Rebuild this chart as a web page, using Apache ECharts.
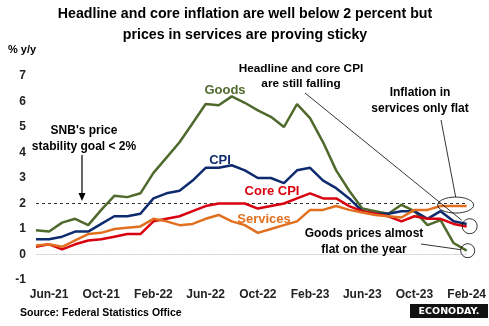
<!DOCTYPE html>
<html><head><meta charset="utf-8">
<script src="https://cdn.jsdelivr.net/npm/echarts@6/dist/echarts.min.js"></script>
<style>html,body{margin:0;padding:0;background:#fff;}#c{width:489px;height:326px;}</style>
</head><body><div id="c"></div>
<script>
const categories = ['May-21','Jun-21','Jul-21','Aug-21','Sep-21','Oct-21','Nov-21','Dec-21',
 'Jan-22','Feb-22','Mar-22','Apr-22','May-22','Jun-22','Jul-22','Aug-22','Sep-22','Oct-22','Nov-22','Dec-22',
 'Jan-23','Feb-23','Mar-23','Apr-23','May-23','Jun-23','Jul-23','Aug-23','Sep-23','Oct-23','Nov-23','Dec-23',
 'Jan-24','Feb-24'];
const tickLabels = ['Jun-21','Oct-21','Feb-22','Jun-22','Oct-22','Feb-23','Jun-23','Oct-23','Feb-24'];
const goods = [0.95,0.9,1.25,1.4,1.15,1.75,2.3,2.25,2.4,3.2,3.8,4.4,5.15,5.9,5.85,6.2,5.95,5.65,5.4,5.0,5.9,5.35,4.4,3.3,2.5,1.8,1.7,1.6,1.95,1.7,1.15,1.35,0.45,0.15];
const cpi = [0.6,0.6,0.7,0.9,0.9,1.2,1.5,1.5,1.6,2.2,2.4,2.5,2.9,3.4,3.4,3.5,3.3,3.0,3.0,2.8,3.3,3.4,2.9,2.6,2.2,1.7,1.6,1.6,1.7,1.7,1.4,1.7,1.3,1.2];
const coreCpi = [0.3,0.4,0.2,0.4,0.55,0.6,0.7,0.8,0.8,1.3,1.4,1.5,1.7,1.9,2.0,2.0,2.0,1.8,1.9,2.0,2.2,2.4,2.2,2.2,1.9,1.7,1.6,1.5,1.3,1.5,1.4,1.4,1.2,1.1];
const services = [0.35,0.4,0.3,0.55,0.8,0.85,1.0,1.05,1.1,1.4,1.3,1.15,1.2,1.4,1.55,1.3,1.15,0.85,1.0,1.15,1.3,1.75,1.75,1.9,1.75,1.65,1.55,1.5,1.45,1.75,1.75,1.9,1.9,1.9];
const goalLevel = 2;
const yTicks = {min:-1, max:7, interval:1};

const FONT = '"Liberation Sans Narrow","Liberation Sans",Arial,sans-serif';
const C_GOODS = '#4f6a2c', C_CPI = '#0d2b6e', C_CORE = '#d9000f', C_SERV = '#e07020';

const chart = echarts.init(document.getElementById('c'), null, {renderer:'canvas'});

function lineSeries(name, data, color, extra) {
  return Object.assign({
    name, type:'line', data, symbol:'none', smooth:false,
    lineStyle:{color, width:2.5}, itemStyle:{color}, z:3, silent:true
  }, extra || {});
}

chart.setOption({
  animation:false,
  grid:{left:36, right:22, top:76, bottom:46},
  xAxis:{
    type:'category', data:categories, boundaryGap:false,
    axisLine:{show:false}, axisTick:{show:false},
    axisLabel:{interval:(i, v) => tickLabels.includes(v), margin:9,
      fontFamily:FONT, fontWeight:'bold', fontSize:12, color:'#222'}
  },
  yAxis:{
    type:'value', min:yTicks.min, max:yTicks.max, interval:yTicks.interval,
    splitLine:{show:false}, axisLine:{show:false}, axisTick:{show:false},
    axisLabel:{margin:10, fontFamily:FONT, fontWeight:'bold', fontSize:12, color:'#222'}
  },
  series:[
    lineSeries('Zero', categories.map(()=>0), '#d9d9d9', {lineStyle:{color:'#d9d9d9', width:1}, z:1}),
    lineSeries('Goal', categories.map(()=>goalLevel), '#000', {lineStyle:{color:'#333', width:1, type:[3,3]}, z:2}),
    lineSeries('Goods', goods, C_GOODS),
    lineSeries('CPI', cpi, C_CPI),
    lineSeries('Core CPI', coreCpi, C_CORE),
    lineSeries('Services', services, C_SERV)
  ]
});

const last = categories.length - 1;
const pG = chart.convertToPixel({gridIndex:0}, [last, goods[last]]);
const pC = chart.convertToPixel({gridIndex:0}, [last, (cpi[last]+coreCpi[last])/2]);
const pS = chart.convertToPixel({gridIndex:0}, [last, services[last]]);

function txt(text, x, y, color, size, extra) {
  return {type:'text', z:10, style:Object.assign({text, x, y, fill:color, fontFamily:FONT, fontWeight:'bold',
    fontSize:size, align:'center', verticalAlign:'middle', lineHeight:Math.round(size*1.3)}, extra||{})};
}
function seg(x1,y1,x2,y2,w,color){
  return {type:'line', z:9, shape:{x1,y1,x2,y2}, style:{stroke:color||'#000', lineWidth:w||0.8}};
}

chart.setOption({graphic:[
  txt('Headline and core inflation are well below 2 percent but', 245, 14, '#000', 14.2),
  txt('prices in services are proving sticky', 245, 35, '#000', 14.2),
  txt('% y/y', 8, 50, '#000', 11, {align:'left'}),
  txt('Goods', 225, 90, C_GOODS, 13),
  txt('CPI', 220, 160, C_CPI, 13),
  txt('Core CPI', 272, 191, C_CORE, 13),
  txt('Services', 264, 219, C_SERV, 13),
  txt('Headline and core CPI\nare still falling', 301, 76, '#000', 11.8),
  txt('Inflation in\nservices only flat', 420, 101, '#000', 12),
  txt("SNB's price\nstability goal < 2%", 84, 139, '#000', 12),
  txt('Goods prices almost\nflat on the year', 364, 242, '#000', 12),
  seg(305, 93, pC[0]-5, pC[1]-5),
  seg(441, 120, pS[0]-11, pS[1]-9),
  seg(421, 244, pG[0]-6, pG[1]-1),
  seg(82, 155, 82, 196, 1.2),
  {type:'polygon', z:9, shape:{points:[[78.5,193],[85.5,193],[82,201]]}, style:{fill:'#000'}},
  {type:'ellipse', z:11, shape:{cx:pS[0]-11, cy:pS[1]-1, rx:18, ry:8}, style:{fill:null, stroke:'#000', lineWidth:0.8}},
  {type:'circle', z:11, shape:{cx:pC[0]+3, cy:pC[1]+1, r:7.5}, style:{fill:null, stroke:'#000', lineWidth:0.8}},
  {type:'circle', z:11, shape:{cx:pG[0]+1, cy:pG[1], r:7}, style:{fill:null, stroke:'#000', lineWidth:0.8}},
  txt('Source: Federal Statistics Office', 20, 313, '#000', 10.5, {align:'left'}),
  {type:'rect', z:10, shape:{x:410, y:304, width:78, height:14}, style:{fill:'#111'}},
  txt('ECONODAY.', 449, 311.5, '#fff', 10.5, {fontFamily:'"DejaVu Sans",sans-serif', fontWeight:'bold', fontSize:9.5})
]});
</script></body></html>
